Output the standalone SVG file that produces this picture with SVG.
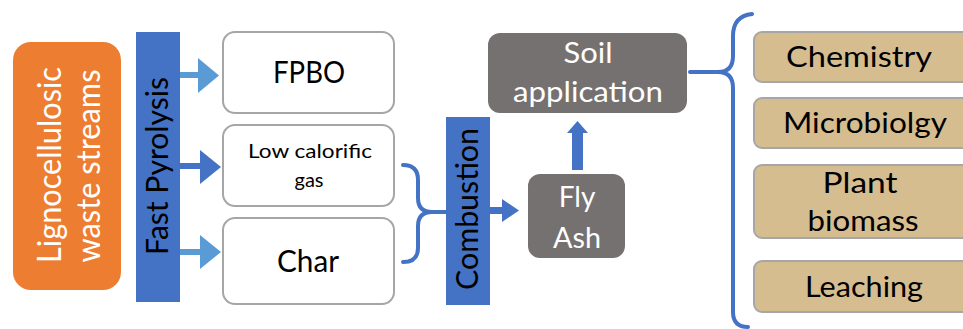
<svg xmlns="http://www.w3.org/2000/svg" width="963" height="329" viewBox="0 0 963 329">
<style>
text{font-family:Lato,"Open Sans","Liberation Sans",sans-serif;}
.w{fill:#fff}
.k{fill:#000}
.out{fill:#fff;stroke:#A6A6A6;stroke-width:2}
.grey{fill:#767171}
.tan{fill:#D5BD90;stroke:#A6A6A6;stroke-width:2}
.bar{fill:#4472C4}
.brace{fill:none;stroke:#4472C4;stroke-width:4;stroke-linecap:round;stroke-linejoin:round}
.lb{fill:#5B9BD5}
.db{fill:#4472C4}
</style>
<g id="feed">
<rect x="13" y="42" width="108" height="248" rx="18" fill="#ED7D31"/>
<text class="w" font-size="32" text-anchor="middle" transform="translate(61,165) rotate(-90)" textLength="196" lengthAdjust="spacingAndGlyphs">Lignocellulosic</text>
<text class="w" font-size="32" text-anchor="middle" transform="translate(100,166) rotate(-90)" textLength="193" lengthAdjust="spacingAndGlyphs">waste streams</text>
</g>
<g id="fast-pyrolysis">
<rect class="bar" x="136" y="32" width="44" height="270"/>
<text class="k" font-size="30" text-anchor="middle" transform="translate(168,166) rotate(-90)" textLength="178" lengthAdjust="spacingAndGlyphs">Fast Pyrolysis</text>
</g>
<g id="fpbo">
<rect class="out" x="223" y="32" width="171" height="81" rx="12"/>
<text class="k" font-size="30" text-anchor="middle" x="309" y="83" textLength="72" lengthAdjust="spacingAndGlyphs">FPBO</text>
</g>
<g id="gas">
<rect class="out" x="223" y="125" width="171" height="81" rx="12"/>
<text class="k" font-size="20" text-anchor="middle" x="310" y="158" textLength="124" lengthAdjust="spacingAndGlyphs">Low calorific</text>
<text class="k" font-size="20" text-anchor="middle" x="309" y="187">gas</text>
</g>
<g id="char">
<rect class="out" x="223" y="218" width="171" height="86" rx="12"/>
<text class="k" font-size="30" text-anchor="middle" x="308" y="272" textLength="62" lengthAdjust="spacingAndGlyphs">Char</text>
</g>
<g id="combustion">
<rect class="bar" x="446" y="117" width="44" height="188"/>
<text class="k" font-size="30" text-anchor="middle" transform="translate(478,209) rotate(-90)" textLength="162" lengthAdjust="spacingAndGlyphs">Combustion</text>
</g>
<g id="fly-ash">
<rect class="grey" x="528" y="174" width="97" height="84" rx="12"/>
<text class="w" font-size="28" text-anchor="middle" x="577" y="207">Fly</text>
<text class="w" font-size="28" text-anchor="middle" x="577" y="248" textLength="48" lengthAdjust="spacingAndGlyphs">Ash</text>
</g>
<g id="soil">
<rect class="grey" x="488" y="33" width="199" height="80" rx="12"/>
<text class="w" font-size="29" text-anchor="middle" x="588" y="63" textLength="49" lengthAdjust="spacingAndGlyphs">Soil</text>
<text class="w" font-size="29" text-anchor="middle" x="588" y="102" textLength="150" lengthAdjust="spacingAndGlyphs">application</text>
</g>
<g id="chemistry">
<rect class="tan" x="754" y="32" width="220" height="50" rx="8"/>
<text class="k" font-size="28" text-anchor="middle" x="859" y="67" textLength="146" lengthAdjust="spacingAndGlyphs">Chemistry</text>
</g>
<g id="microbiology">
<rect class="tan" x="754" y="98" width="220" height="50" rx="8"/>
<text class="k" font-size="28" text-anchor="middle" x="865" y="133" textLength="164" lengthAdjust="spacingAndGlyphs">Microbiolgy</text>
</g>
<g id="plant-biomass">
<rect class="tan" x="754" y="165" width="220" height="73" rx="8"/>
<text class="k" font-size="28" text-anchor="middle" x="860" y="193" textLength="75" lengthAdjust="spacingAndGlyphs">Plant</text>
<text class="k" font-size="28" text-anchor="middle" x="863" y="231" textLength="111" lengthAdjust="spacingAndGlyphs">biomass</text>
</g>
<g id="leaching">
<rect class="tan" x="754" y="261" width="220" height="51" rx="8"/>
<text class="k" font-size="28" text-anchor="middle" x="864" y="297" textLength="118" lengthAdjust="spacingAndGlyphs">Leaching</text>
</g>
<g id="connectors">
<rect class="lb" x="180" y="72" width="19" height="6"/>
<polygon class="lb" points="198,58 219,75.5 198,93"/>
<rect class="db" x="180" y="163" width="21" height="6"/>
<polygon class="db" points="200,150 221,167 200,184"/>
<rect class="lb" x="180" y="249" width="21" height="6"/>
<polygon class="lb" points="200,235 221,252 200,269"/>
<path class="brace" d="M403,165 Q418,165 418,180 L418,198 Q418,212 432,212 L446,212 M432,212 Q418,212 418,226 L418,248 Q418,262 403,262"/>
<rect class="db" x="490" y="207" width="13" height="7"/>
<polygon class="db" points="502,199 519,210.5 502,222"/>
<rect class="db" x="572" y="132" width="11" height="38"/>
<polygon class="db" points="567,133 577.5,121 588,133"/>
<path class="brace" d="M752,14 Q733,16 733,36 L733,56 Q733,72 718,72 L690,72 M718,72 Q733,72 733,88 L733,312 Q733,327 748,327"/>
</g>
</svg>
